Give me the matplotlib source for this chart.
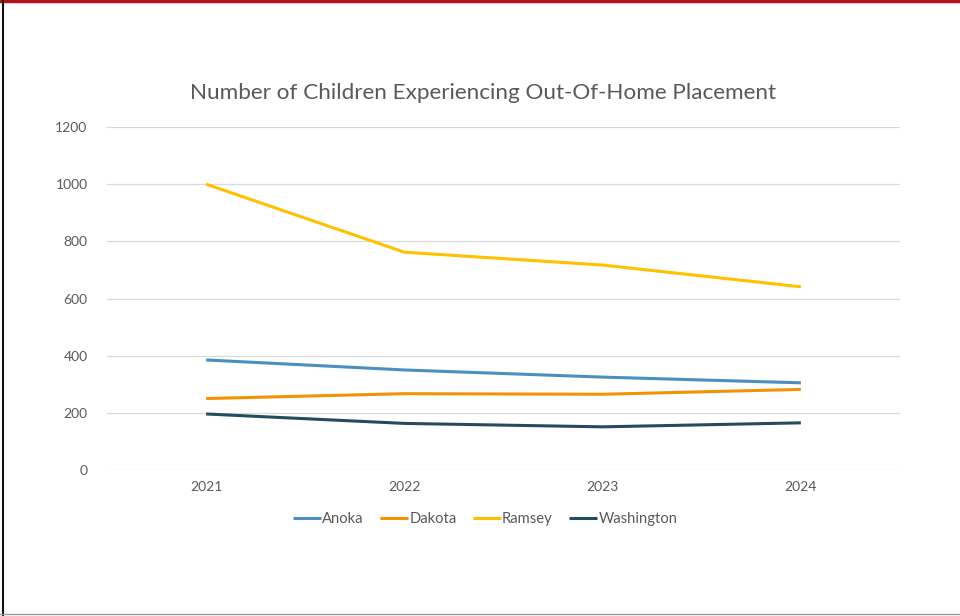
import matplotlib.pyplot as plt
from matplotlib.lines import Line2D

plt.rcParams['font.family'] = ['Lato', 'DejaVu Sans']

# data
years = ['2021', '2022', '2023', '2024']
anoka = [385, 350, 325, 305]
dakota = [250, 267, 265, 282]
ramsey = [1000, 762, 717, 641]
washington = [196, 163, 151, 165]

series = [('Anoka', anoka, '#4A8FBF'),
          ('Dakota', dakota, '#F39200'),
          ('Ramsey', ramsey, '#FFC000'),
          ('Washington', washington, '#244B5E')]

fig = plt.figure(figsize=(9.6, 6.16), dpi=100)
ax = fig.add_axes([107/960, 1-470/616, 793/960, 343/616])

x = range(len(years))
for name, vals, col in series:
    ax.plot(x, vals, color=col, lw=2.2, label=name, solid_capstyle='butt')

ax.set_xlim(-0.5, 3.5)
ax.set_ylim(0, 1200)
ax.set_yticks(range(0, 1201, 200))
ax.set_xticks(list(x))
ax.set_xticklabels(years)
ax.grid(axis='y', color='#D9D9D9', lw=0.9)
ax.set_axisbelow(True)
for s in ax.spines.values():
    s.set_visible(False)
ax.tick_params(length=0, colors='#595959', labelsize=10)
ax.tick_params(axis='y', pad=14)
ax.tick_params(axis='x', pad=8)

fig.text(483/960, 1-93/616, 'Number of Children Experiencing Out-Of-Home Placement',
         ha='center', va='center', fontsize=16.2, color='#595959')

fig.legend(loc='center', bbox_to_anchor=(485/960, 1-519/616), ncol=4, frameon=False,
           fontsize=10.6, labelcolor='#595959', handlelength=1.9, handletextpad=0.1,
           columnspacing=1.1)

# page borders
fig.add_artist(Line2D([0, 1], [0.998, 0.998], color='#B0141E', lw=2.5, transform=fig.transFigure))
fig.add_artist(Line2D([3/960, 3/960], [0, 1], color='#111111', lw=1.5, transform=fig.transFigure))
fig.add_artist(Line2D([0, 1], [2.5/616, 2.5/616], color='#9A9A9A', lw=1.0, transform=fig.transFigure))

fig.savefig('out.png', dpi=100)
